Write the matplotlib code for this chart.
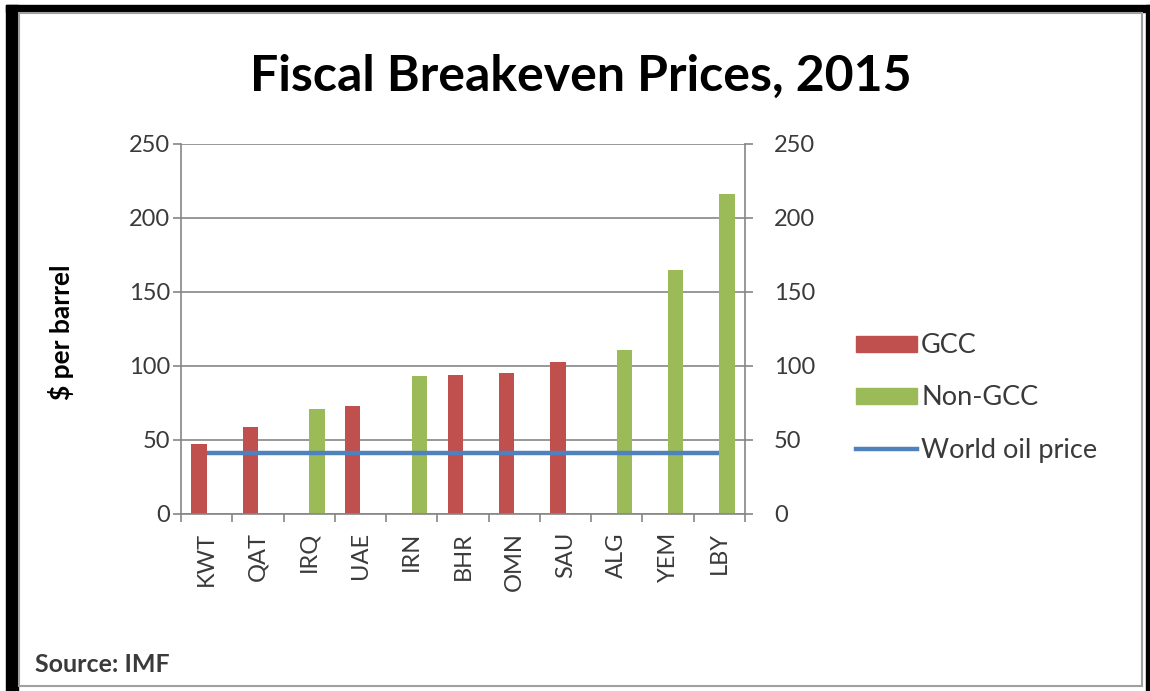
import numpy as np
import matplotlib
matplotlib.use("Agg")
import matplotlib.pyplot as plt
from matplotlib.patches import Rectangle, Patch
from matplotlib.lines import Line2D

plt.rcParams['font.family'] = ['Lato', 'DejaVu Sans']

# data
countries = ['KWT', 'QAT', 'IRQ', 'UAE', 'IRN', 'BHR', 'OMN', 'SAU', 'ALG', 'YEM', 'LBY']
gcc = [47, 59, np.nan, 73, np.nan, 94, 95, 103, np.nan, np.nan, np.nan]
non_gcc = [np.nan, np.nan, 71, np.nan, 93, np.nan, np.nan, np.nan, 111, 165, 216]
oil_price = [41] * len(countries)

RED = '#C0504D'
GREEN = '#9BBB59'
BLUE = '#4F81BD'
GRID = '#868686'
TXT = '#3a3a3a'

fig = plt.figure(figsize=(11.5, 6.91), dpi=100)
W, H = 1150, 691

def px(x0, y0, x1, y1):
    # pixel box -> figure fraction rect
    return [x0 / W, 1 - y1 / H, (x1 - x0) / W, (y1 - y0) / H]

# outer black frame + grey inner border, like the screenshot
for x0, y0, x1, y1 in [(6, 5, 18, 691), (6, 5, 1150, 12), (1146, 5, 1150, 691)]:
    r = px(x0, y0, x1, y1)
    fig.patches.append(Rectangle((r[0], r[1]), r[2], r[3], transform=fig.transFigure,
                                 color='black', zorder=0))
r = px(19, 13, 1142, 686)
fig.patches.append(Rectangle((r[0], r[1]), r[2], r[3], transform=fig.transFigure,
                             fill=False, edgecolor='#a0a0a0', lw=1.5, zorder=0))

ax = fig.add_axes(px(181, 144, 745, 514))
x = np.arange(len(countries))
w = 0.3
ax.bar(x - 0.15, gcc, width=w, color=RED, zorder=2)
ax.bar(x + 0.15, non_gcc, width=w, color=GREEN, zorder=2)
ax.plot(x, oil_price, color=BLUE, lw=3.2, zorder=3, solid_capstyle='butt')

ax.set_xlim(-0.5, len(countries) - 0.5)
ax.set_ylim(0, 250)
ax.set_yticks(np.arange(0, 251, 50))
ax.yaxis.grid(True, color=GRID, lw=1.2, zorder=0)
ax.set_axisbelow(True)
for s in ['top', 'right']:
    ax.spines[s].set_visible(False)
for s in ['left', 'bottom']:
    ax.spines[s].set_color(GRID)
    ax.spines[s].set_linewidth(1.2)

ax.set_xticks(x)
ax.set_xticklabels(countries, rotation=90)
ax.set_xticks(np.arange(-0.5, len(countries)), minor=True)
ax.tick_params(axis='x', which='major', length=0, pad=13, labelsize=17, labelcolor=TXT)
ax.tick_params(axis='x', which='minor', length=6, width=1.2, color=GRID)
ax.tick_params(axis='y', length=6, width=1.2, color=GRID, labelsize=17, labelcolor=TXT, pad=2)

ax2 = ax.twinx()
ax2.set_ylim(0, 250)
ax2.set_yticks(np.arange(0, 251, 50))
for s in ['top', 'left', 'bottom']:
    ax2.spines[s].set_visible(False)
ax2.spines['right'].set_color(GRID)
ax2.spines['right'].set_linewidth(1.2)
ax2.tick_params(axis='y', length=6, width=1.2, color=GRID, labelsize=17, labelcolor=TXT, pad=15)

fig.text(61 / W, 1 - 332 / H, '$ per barrel', rotation=90, ha='center', va='center',
         fontsize=19, fontweight='bold', color='black')

fig.text(581 / W, 1 - 76 / H, 'Fiscal Breakeven Prices, 2015', ha='center', va='center',
         fontsize=36, fontweight='bold', color='black')

fig.text(35 / W, 1 - 664 / H, 'Source: IMF', ha='left', va='center',
         fontsize=18, fontweight='bold', color=TXT)

handles = [Patch(color=RED), Patch(color=GREEN), Line2D([], [], color=BLUE, lw=3.2)]
fig.legend(handles, ['GCC', 'Non-GCC', 'World oil price'], loc='center left',
           bbox_to_anchor=(856 / W, 1 - 398 / H), frameon=False, fontsize=19.5,
           handlelength=2.25, handleheight=0.56, handletextpad=0.15, labelspacing=1.0,
           borderpad=0, borderaxespad=0, labelcolor=TXT)

fig.savefig('out.png', dpi=100, facecolor='white')
